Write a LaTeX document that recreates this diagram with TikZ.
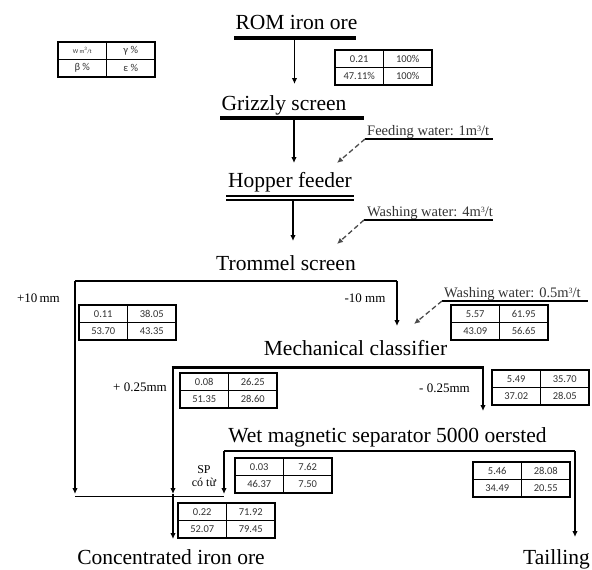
\documentclass[tikz,border=0pt]{standalone}
\usepackage{fontspec}
\setmainfont{Liberation Serif}
\newfontfamily\tabfont{Carlito}
\usetikzlibrary{arrows.meta,calc}
\tikzset{
  title/.style={font=\fontsize{21.5}{24}\selectfont, anchor=base, inner sep=0pt},
  lbl/.style={font=\fontsize{13}{15}\selectfont, anchor=base, inner sep=0pt},
  wlbl/.style={font=\fontsize{14.5}{16}\selectfont, anchor=base west, inner sep=0pt, text=black!80},
  bar/.style={line width=3.5pt},
  arr/.style={-{Latex[length=6pt,width=5.5pt]}},
  thinline/.style={line width=1.3pt},
  midline/.style={line width=1.6pt},
  thickline/.style={line width=2.6pt},
  dasharr/.style={line width=1.3pt, dash pattern=on 5pt off 3pt, draw=black!70, -{Latex[length=6pt,width=5.5pt]}},
  tabbox/.style={draw, line width=1.2pt, minimum width=97pt, minimum height=35pt, anchor=north west, inner sep=0pt, outer sep=0pt},
  tabline/.style={line width=1.2pt},
  tabtxt/.style={font=\tabfont\fontsize{10.5}{12}\selectfont, text=black!80, inner sep=0pt}
}
\newcommand\supthree{\raisebox{0.55ex}{\fontsize{8}{9}\selectfont 3}}
\newcommand\dtab[7]{%
  \node[tabbox] (#1) at (#2,#3) {};
  \draw[tabline] (#1.north) -- (#1.south);
  \draw[tabline] (#1.west) -- (#1.east);
  \node[tabtxt] at ($(#1.north west)!0.5!(#1.center)$) {#4};
  \node[tabtxt] at ($(#1.north east)!0.5!(#1.center)$) {#5};
  \node[tabtxt] at ($(#1.south west)!0.5!(#1.center)$) {#6};
  \node[tabtxt] at ($(#1.south east)!0.5!(#1.center)$) {#7};
}
\begin{document}
\begin{tikzpicture}[x=1pt,y=-1pt]
\useasboundingbox (0,0) rectangle (592,570);
\fill[white] (0,0) rectangle (592,570);

% ROM
\node[title] (rom) at (296.5,30) {ROM iron ore};
\coordinate (romL) at (234,38); \coordinate (romR) at (356,38);
\draw[bar] (romL) -- (romR);
\coordinate (romO) at (294.5,38); \coordinate (grizIn) at (294.5,84);
\draw[thinline,arr] (romO) -- (grizIn);

% Grizzly
\node[title] (griz) at (284,110) {Grizzly screen};
\coordinate (grizL) at (220,118); \coordinate (grizR) at (364,118);
\draw[bar] (grizL) -- (grizR);
\coordinate (grizO) at (294,118); \coordinate (hopIn) at (294,163);
\draw[thinline,arr] (grizO) -- (hopIn);

% Feeding water
\node[wlbl] (fw) at (367,135) {Feeding water: 1m\supthree/t};
\coordinate (fwL) at (365,139); \coordinate (fwR) at (493,139);
\draw[thinline] (fwL) -- (fwR);
\coordinate (hopW) at (337,163);
\draw[dasharr] (fwL) -- (hopW);

% Hopper
\node[title] (hop) at (290,187) {Hopper feeder};
\coordinate (hopL1) at (226,196); \coordinate (hopR1) at (354,196);
\coordinate (hopL2) at (226,200); \coordinate (hopR2) at (354,200);
\draw[thinline] (hopL1) -- (hopR1);
\draw[thinline] (hopL2) -- (hopR2);
\coordinate (hopO) at (293,200); \coordinate (tromIn) at (293,241);
\draw[thinline,arr] (hopO) -- (tromIn);

% Washing water 4
\node[wlbl] (ww) at (367,216) {Washing water: 4m\supthree/t};
\coordinate (wwL) at (364,220); \coordinate (wwR) at (493,220);
\draw[thinline] (wwL) -- (wwR);
\coordinate (tromW) at (337,244);
\draw[dasharr] (wwL) -- (tromW);

% Trommel
\node[title] (trom) at (286,270) {Trommel screen};
\coordinate (tL) at (75,281); \coordinate (tR) at (397,281);
\draw[midline] (tL) -- (tR);
\coordinate (tLd) at (75,494);
\draw[thickline,arr] (tL) -- (tLd);
\coordinate (mcIn) at (397,326);
\draw[midline,arr] (tR) -- (mcIn);
\node[lbl] (p10) at (38.5,302) {+10\,mm};
\node[lbl] (m10) at (365,302) {-10 mm};

% Washing water 0.5
\node[wlbl] (ww2) at (444,297) {Washing water: 0.5m\supthree/t};
\coordinate (ww2L) at (442,301); \coordinate (ww2R) at (588,301);
\draw[thinline] (ww2L) -- (ww2R);
\coordinate (mcW) at (414,324);
\draw[dasharr] (ww2L) -- (mcW);

% Mechanical classifier
\node[title] (mc) at (355.5,355) {Mechanical classifier};
\coordinate (mcL) at (173,367); \coordinate (mcR) at (483,367);
\draw[line width=3pt] ([xshift=-1.3pt]mcL) -- ([xshift=1.3pt]mcR);
\coordinate (mcLd) at (173,494);
\draw[thickline,arr] (mcL) -- (mcLd);
\coordinate (wmIn) at (483,411);
\draw[thickline,arr] (mcR) -- (wmIn);
\node[lbl] (p025) at (140,391) {+ 0.25mm};
\node[lbl] (m025) at (444.5,392) {- 0.25mm};

% Wet magnetic separator
\node[title] (wm) at (387.5,442) {Wet magnetic separator 5000 oersted};
\coordinate (wmL) at (224,451); \coordinate (wmR) at (575,451);
\draw[midline] (wmL) -- (wmR);
\coordinate (wmLd) at (224,494);
\draw[midline,arr] (wmL) -- (wmLd);
\coordinate (tailIn) at (575,537);
\draw[midline,arr] (wmR) -- (tailIn);
\node[font=\fontsize{12}{14}\selectfont, inner sep=0pt, align=center] (sp) at (204,476) {SP\\[-1pt]có từ};

% collector
\coordinate (cL) at (75,496.5); \coordinate (cR) at (224,496.5);
\draw[thinline] (cL) -- (cR);
\coordinate (cM) at (173,494); \coordinate (concIn) at (173,539);
\draw[thickline,arr] (cM) -- (concIn);

\node[title] (conc) at (171,564) {Concentrated iron ore};
\node[title] (tail) at (556.5,564) {Tailling};

% tables
\dtab{tleg}{58}{42}{{\fontsize{6}{7}\selectfont W m\textsuperscript{3}/t}}{γ \%}{β \%}{ε \%}
\dtab{t0}{335}{50}{0.21}{100\%}{47.11\%}{100\%}
\dtab{t1}{79}{305}{0.11}{38.05}{53.70}{43.35}
\dtab{t2}{451}{305}{5.57}{61.95}{43.09}{56.65}
\dtab{t3}{180}{373}{0.08}{26.25}{51.35}{28.60}
\dtab{t4}{492}{370}{5.49}{35.70}{37.02}{28.05}
\dtab{t5}{235}{458}{0.03}{7.62}{46.37}{7.50}
\dtab{t6}{473}{462}{5.46}{28.08}{34.49}{20.55}
\dtab{t7}{178}{503}{0.22}{71.92}{52.07}{79.45}
\end{tikzpicture}
\end{document}
